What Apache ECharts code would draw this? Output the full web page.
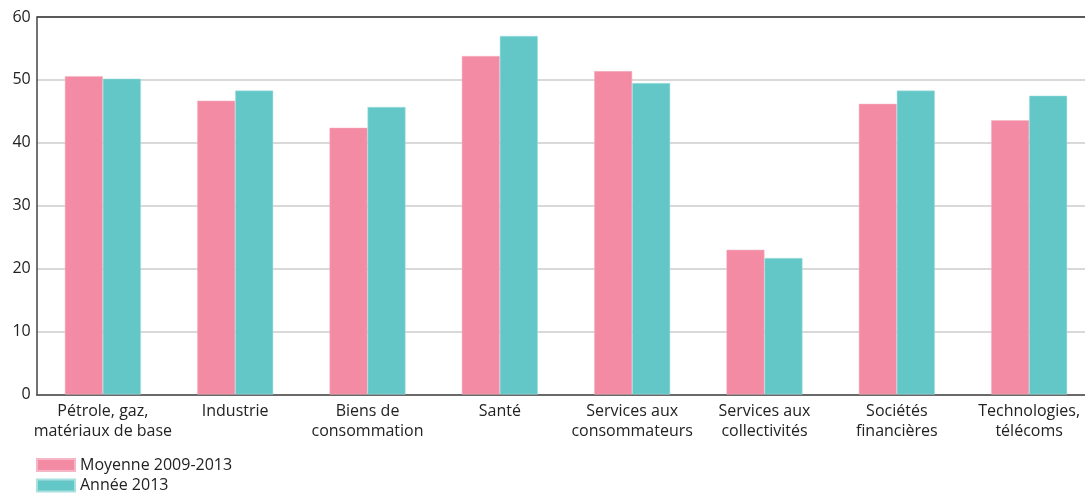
<!DOCTYPE html>
<html>
<head>
<meta charset="utf-8">
<script src="https://cdn.jsdelivr.net/npm/echarts@6/dist/echarts.min.js"></script>
<style>
  html, body { margin: 0; padding: 0; background: #fff; }
  #chart { width: 1085px; height: 493px; }
</style>
</head>
<body>
<div id="chart"></div>
<script>
// Sectors and values (in %)
const categories = [
  'Pétrole, gaz,\nmatériaux de base',
  'Industrie',
  'Biens de\nconsommation',
  'Santé',
  'Services aux\nconsommateurs',
  'Services aux\ncollectivités',
  'Sociétés\nfinancières',
  'Technologies,\ntélécoms'
];
const seriesNames = ['Moyenne 2009-2013', 'Année 2013'];
const moyenne = [50.6, 46.7, 42.4, 53.8, 51.4, 23.0, 46.2, 43.6];
const annee2013 = [50.2, 48.3, 45.7, 57.0, 49.5, 21.7, 48.3, 47.5];

const font = '"Open Sans", Lato, sans-serif';
const chart = echarts.init(document.getElementById('chart'));

// one legend row per series, stacked
const legendBase = {
  left: 36,
  padding: 0,
  itemWidth: 38,
  itemHeight: 12,
  itemGap: 6,
  icon: 'rect',
  textStyle: { fontFamily: font, fontSize: 16, color: '#222', lineHeight: 20 }
};

chart.setOption({
  animation: false,
  textStyle: { fontFamily: font },
  grid: {
    left: 36.7, right: -10.3, top: 17, bottom: 98.5,
    containLabel: false, outerBoundsMode: 'none'
  },
  legend: [
    Object.assign({}, legendBase, { top: 455, data: [seriesNames[0]] }),
    Object.assign({}, legendBase, { top: 475.5, data: [seriesNames[1]] })
  ],
  xAxis: {
    type: 'category',
    data: categories,
    axisLine: { lineStyle: { color: '#444', width: 1.5 } },
    axisTick: { inside: true, length: 7, lineStyle: { color: '#444', width: 1.5 } },
    axisLabel: {
      fontFamily: font, fontSize: 16, color: '#222',
      lineHeight: 20, margin: 7, interval: 0
    }
  },
  yAxis: {
    type: 'value',
    min: 0, max: 60, interval: 10,
    axisLine: { show: true, lineStyle: { color: '#444', width: 1.5 } },
    axisTick: { show: false },
    axisLabel: { fontFamily: font, fontSize: 16, color: '#222', margin: 6 },
    splitLine: {
      lineStyle: {
        color: ['#d9d9d9', '#d9d9d9', '#d9d9d9', '#d9d9d9', '#d9d9d9', '#d9d9d9', '#5a5a5a'],
        width: 2
      }
    }
  },
  series: [
    {
      name: seriesNames[0],
      type: 'bar',
      data: moyenne,
      barWidth: 38,
      barGap: '0%',
      itemStyle: { color: '#F28BA3', borderColor: '#f7b6c5', borderWidth: 0.5 }
    },
    {
      name: seriesNames[1],
      type: 'bar',
      data: annee2013,
      barWidth: 38,
      barGap: '0%',
      itemStyle: { color: '#64C7C7', borderColor: '#a8e0e0', borderWidth: 0.5 }
    }
  ]
});
</script>
</body>
</html>
